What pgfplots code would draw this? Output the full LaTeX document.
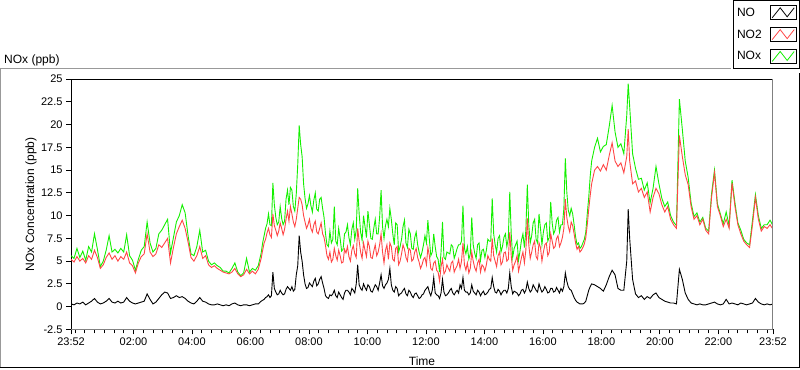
\documentclass[border=0pt]{standalone}
\usepackage{fontspec}
\setmainfont{Liberation Sans}
\usepackage{pgfplots}
\usepackage{pgfplotstable}
\pgfplotsset{compat=1.18}
\definecolor{noxgreen}{RGB}{20,240,0}
\definecolor{no2red}{RGB}{255,70,70}

\pgfplotstableread{
t NO NO2 NOx
0 0.3 5.2 5.6
6 0.2 4.9 5.3
12 0.4 5.5 6.4
18 0.3 5.0 5.4
24 0.5 5.3 6.1
30 0.2 4.8 5.1
36 0.4 5.6 6.6
42 0.6 5.2 6.0
48 0.9 6.2 8.0
54 0.5 5.4 6.3
60 0.3 4.2 4.4
66 0.4 4.6 5.0
72 0.6 5.4 6.2
78 0.9 5.9 7.8
84 0.5 5.2 6.0
90 0.4 5.6 6.3
96 0.6 5.0 5.9
102 0.4 5.5 6.4
108 0.5 5.2 6.0
114 1.0 6.0 7.9
120 0.6 4.8 5.6
126 0.4 4.5 5.1
132 0.3 3.7 4.0
138 0.4 4.8 5.2
144 0.5 5.5 6.2
150 0.6 5.8 6.6
156 1.4 8.0 9.3
162 0.8 6.0 7.0
168 0.3 5.5 6.0
174 0.5 5.8 6.4
180 0.9 6.8 8.0
186 1.3 6.5 8.4
192 1.6 7.0 9.0
198 1.5 7.5 9.6
204 0.9 4.8 5.9
210 1.0 6.5 7.6
216 1.2 8.0 9.3
222 1.0 8.8 10.0
228 1.1 9.5 11.2
234 0.9 8.6 10.3
240 0.6 7.1 7.8
246 0.4 5.4 5.8
252 0.3 5.0 5.6
258 0.6 5.6 6.6
264 1.0 6.6 8.4
270 0.6 5.3 6.0
276 0.5 5.6 6.2
282 0.3 4.6 5.0
288 0.2 4.3 4.6
294 0.2 4.5 4.8
300 0.3 4.2 4.5
306 0.2 4.0 4.3
312 0.1 3.8 3.9
318 0.2 3.7 3.9
324 0.1 3.6 3.7
330 0.3 3.8 4.2
336 0.4 4.2 4.8
342 0.2 3.6 3.8
348 0.1 3.3 3.4
354 0.2 3.5 3.7
360 0.2 4.1 5.3
366 0.1 3.6 3.8
372 0.2 3.9 4.2
378 0.3 3.6 4.0
384 0.3 4.1 4.5
390 0.6 5.3 5.9
393 0.7 6.2 7.0
396 0.8 7.0 7.8
399 1.0 7.4 8.6
402 1.1 8.1 9.1
405 1.3 8.6 10.2
408 1.0 7.9 9.0
411 1.2 7.6 8.9
414 3.8 10.2 13.6
417 2.0 8.9 11.2
420 1.6 8.4 9.8
423 1.3 7.8 9.0
426 1.4 8.3 9.3
429 1.8 9.2 11.0
432 1.5 8.6 9.7
435 1.3 7.9 9.0
438 1.4 8.5 9.4
441 1.9 9.6 11.8
444 2.2 10.5 12.8
447 2.0 9.4 11.2
450 1.8 11.0 13.1
453 2.2 10.2 12.8
456 1.7 9.3 11.0
459 1.9 8.8 10.5
462 3.5 9.6 12.4
465 4.5 10.8 15.6
468 7.8 12.0 19.9
471 6.0 11.8 17.8
474 5.0 11.2 16.5
477 3.5 10.0 13.5
480 2.5 9.3 11.9
483 2.0 8.6 10.8
486 2.1 9.0 11.3
489 2.6 9.6 12.2
492 2.4 8.6 11.1
495 2.2 8.2 10.4
498 2.8 9.0 11.7
501 3.1 9.4 12.5
504 2.3 8.2 10.7
507 2.5 8.0 10.5
510 3.0 8.6 11.8
513 3.3 9.2 12.0
516 2.6 8.0 10.8
519 2.0 7.6 9.8
522 1.2 6.7 8.0
525 1.0 5.6 6.8
528 0.9 5.2 6.6
531 1.3 6.0 8.3
534 1.2 4.9 7.0
537 1.4 5.2 7.4
540 1.8 6.4 11.0
543 1.2 5.6 7.2
546 1.0 5.1 6.8
549 1.6 6.2 8.6
552 1.3 5.6 7.5
555 1.0 4.8 6.1
558 0.8 4.9 6.3
561 1.5 6.3 8.0
564 1.8 5.9 8.2
567 1.8 6.6 9.0
570 1.6 5.5 7.6
573 1.3 5.0 6.8
576 2.0 6.2 8.5
579 1.8 6.7 9.2
582 1.5 5.8 7.4
585 2.5 5.4 8.4
588 4.6 8.6 13.0
591 2.4 7.2 10.2
594 2.0 6.0 8.2
597 1.8 5.3 7.3
600 2.5 7.0 10.0
603 2.1 6.2 8.8
606 1.8 5.5 7.6
609 2.4 7.2 10.5
612 2.2 6.6 9.0
615 1.7 5.4 7.5
618 1.6 5.3 7.4
621 2.0 6.1 8.6
624 2.4 6.8 9.6
627 2.2 5.6 8.0
630 1.8 6.0 8.0
633 2.6 6.8 9.8
636 3.5 8.0 12.8
639 2.3 6.0 8.8
642 2.0 4.8 7.5
645 2.4 6.2 8.9
648 2.6 6.8 9.6
651 3.0 5.2 8.8
654 4.2 7.0 10.8
657 2.4 6.6 9.6
660 1.8 5.2 8.0
663 1.6 5.0 6.8
666 2.2 6.4 9.2
669 2.0 6.6 9.0
672 1.2 4.6 6.0
675 1.4 5.0 6.6
678 1.5 5.8 7.4
681 1.8 6.8 8.8
684 2.0 6.3 9.5
687 1.4 5.4 7.0
690 1.2 5.0 6.5
693 1.8 6.4 8.5
696 1.6 6.2 8.0
699 1.2 5.0 6.4
702 1.0 5.2 6.3
705 1.4 6.0 7.6
708 1.5 6.4 8.2
711 1.2 5.4 6.8
714 0.9 4.9 6.0
717 1.0 4.2 5.4
720 1.3 4.6 6.0
723 1.4 5.2 6.8
726 1.8 5.4 7.8
729 2.0 4.6 7.0
732 2.2 6.5 9.5
735 1.6 5.6 7.4
738 1.2 4.2 5.6
741 1.8 4.0 6.0
744 3.2 4.8 8.0
747 1.5 5.0 6.6
750 1.3 4.0 5.5
753 1.2 3.8 5.2
756 0.9 2.8 3.8
759 1.5 4.4 6.0
762 3.0 5.2 9.3
765 1.6 3.6 5.4
768 1.2 3.9 5.2
771 1.3 4.6 6.0
774 1.5 4.2 5.9
777 1.8 3.9 5.8
780 2.0 4.8 6.8
783 1.5 5.0 6.6
786 1.3 3.8 5.3
789 1.6 4.2 5.8
792 1.8 4.5 6.4
795 1.5 5.2 6.8
798 2.4 4.2 6.8
801 2.0 5.0 7.2
804 3.2 7.0 11.1
807 1.8 4.6 6.4
810 1.6 4.0 5.8
813 1.6 4.8 6.6
816 1.3 3.7 5.2
819 1.5 4.2 5.8
822 2.4 6.0 9.8
825 1.7 5.0 6.8
828 1.5 4.3 5.9
831 1.3 3.9 5.3
834 1.8 4.8 6.8
837 1.6 5.2 7.0
840 1.2 3.8 5.1
843 1.5 4.6 6.2
846 1.7 4.4 6.3
849 1.3 3.9 5.4
852 1.4 4.6 6.2
855 1.6 5.6 7.4
858 1.9 5.2 7.2
861 2.0 5.0 7.2
864 3.2 7.5 11.9
867 2.2 5.6 8.0
870 1.6 5.0 6.8
873 1.5 4.4 6.0
876 1.9 5.6 7.5
879 1.7 6.0 7.8
882 1.3 4.6 6.0
885 1.6 4.9 6.6
888 1.8 5.9 7.6
891 1.8 6.0 8.0
894 1.5 5.0 6.6
897 2.0 5.2 7.5
900 3.7 8.2 12.6
903 2.2 5.6 8.0
906 1.4 4.0 5.4
909 1.7 4.6 6.4
912 1.6 5.0 6.8
915 1.5 5.6 7.2
918 1.2 3.9 5.1
921 1.4 4.6 6.1
924 1.8 5.4 7.3
927 1.9 6.0 8.0
930 1.5 4.8 6.5
933 1.8 6.2 8.4
936 2.7 9.7 13.4
939 2.0 6.8 9.0
942 1.6 5.3 7.0
945 1.8 6.0 7.8
948 2.4 6.8 9.2
951 2.1 7.2 9.6
954 1.8 5.5 7.4
957 1.6 5.2 7.0
960 2.5 7.0 10.2
963 2.0 6.5 8.6
966 1.6 5.0 6.8
969 1.8 6.0 8.2
972 2.2 6.8 9.0
975 1.9 7.0 9.2
978 1.5 5.6 7.2
981 1.6 6.0 7.6
984 2.0 8.0 11.5
987 2.0 7.2 9.2
990 1.6 6.4 8.0
993 1.7 6.6 8.4
996 2.1 7.5 9.5
999 1.8 7.8 9.8
1002 1.5 6.6 8.2
1005 2.0 7.0 9.0
1008 1.7 7.6 9.0
1011 2.2 8.6 10.8
1014 3.7 11.8 16.3
1017 2.8 9.8 12.6
1020 2.2 8.8 10.6
1023 1.9 8.2 10.0
1026 1.8 9.3 10.8
1029 1.4 8.9 10.2
1032 1.0 8.0 9.0
1035 0.7 7.0 7.7
1038 0.5 6.3 6.8
1041 0.4 6.6 7.0
1044 0.3 6.0 6.4
1047 0.3 6.2 6.6
1050 0.3 6.5 7.0
1053 0.4 6.9 7.4
1056 0.6 7.6 8.2
1059 1.2 9.0 10.2
1062 1.8 10.7 12.0
1065 2.2 12.2 14.3
1068 2.5 13.5 16.0
1074 2.4 15.0 17.5
1080 2.2 15.4 18.5
1086 2.0 14.9 17.0
1092 1.7 15.6 17.6
1098 2.4 15.0 17.8
1104 3.3 16.6 19.8
1110 4.0 18.0 22.1
1116 3.5 16.0 19.2
1122 2.0 15.4 17.5
1128 1.8 15.8 17.9
1134 1.8 14.7 16.8
1140 5.0 16.5 21.0
1143 10.7 19.5 24.5
1146 7.5 16.0 22.0
1152 3.0 13.5 16.8
1158 1.4 13.8 15.2
1164 1.0 12.6 14.0
1170 1.2 13.0 14.1
1176 0.8 12.0 12.8
1182 1.1 12.6 13.6
1188 0.9 10.4 11.4
1194 1.3 12.0 13.0
1200 1.5 13.0 15.4
1206 1.0 12.4 13.5
1212 0.8 11.2 11.9
1218 0.6 10.4 11.0
1224 0.5 11.0 11.5
1230 0.4 9.6 10.0
1236 0.4 9.0 9.3
1242 0.3 8.6 8.9
1248 4.1 18.8 22.8
1254 3.0 16.5 19.5
1260 1.5 14.5 16.0
1266 0.8 13.4 14.2
1272 0.4 11.0 11.4
1278 0.3 9.6 9.9
1284 0.2 10.0 10.3
1290 0.3 9.0 9.3
1296 0.2 9.6 9.8
1302 0.2 8.4 8.6
1308 0.3 8.0 8.3
1314 0.4 12.0 12.4
1320 0.5 14.7 15.0
1326 0.3 11.0 11.3
1332 0.2 10.0 10.2
1338 0.3 8.8 9.1
1344 0.8 9.6 10.4
1350 0.3 8.6 8.9
1356 0.4 13.6 13.9
1362 0.3 11.0 11.4
1368 0.2 9.0 9.2
1374 0.4 8.0 8.4
1380 0.3 7.2 7.4
1386 0.2 6.8 7.0
1392 0.3 6.5 6.8
1398 0.4 9.0 9.5
1404 0.9 12.0 12.3
1410 0.5 9.6 10.0
1416 0.3 8.3 8.6
1422 0.2 8.8 9.0
1428 0.3 8.6 9.0
1434 0.2 9.0 9.5
1440 0.3 8.5 8.9
}\data

\begin{document}
\begin{tikzpicture}[font=\fontsize{12}{14}\selectfont]
\begin{axis}[name=ax, scale only axis, width=701pt, height=250pt,
  xmin=0, xmax=1440, ymin=-2.5, ymax=25,
  xtick={0,128,248,368,488,608,728,848,968,1088,1208,1328,1440},
  xticklabels={23:52,02:00,04:00,06:00,08:00,10:00,12:00,14:00,16:00,18:00,20:00,22:00,23:52},
  minor xtick={8,28,...,1428},
  ytick={-2.5,0,2.5,5,7.5,10,12.5,15,17.5,20,22.5,25},
  yticklabels={-2.5,0,2.5,5,7.5,10,12.5,15,17.5,20,22.5,25},
  tick align=outside, xtick pos=bottom, ytick pos=left,
  major tick length=5pt, minor tick length=4pt,
  tick style={black, line width=0.8pt},
  axis line style={black, line width=1pt},
  ticklabel style={font=\fontsize{11}{13}\selectfont},
  xlabel={Time}, ylabel={NOx Concentration (ppb)},
  every axis x label/.style={at={(axis description cs:0.5,-0.128)}, anchor=center},
  every axis y label/.style={at={(axis description cs:-0.0571,0.5)}, rotate=90, anchor=center},
  legend plot pos=right, reverse legend, legend cell align=left,
  legend style={at={(axis description cs:1.0385,1.316)}, anchor=north east,
    draw=black, line width=0.8pt, inner xsep=3pt, inner ysep=5pt,
    row sep=7pt, column sep=7pt, nodes={inner sep=1pt},
    font=\fontsize{12}{14}\selectfont},
  legend image code/.code={
    \draw[black, line width=0.8pt, fill=white] (0pt,-7pt) rectangle (26pt,7pt);
    \draw[#1, line width=0.8pt] (2pt,-5pt) -- (10pt,5pt) -- (17pt,-4pt) -- (24pt,5pt);
  },
]
\addplot[noxgreen, line width=0.9pt] table[x=t,y=NOx]{\data};
\addlegendentry{NOx}
\addplot[no2red, line width=0.9pt] table[x=t,y=NO2]{\data};
\addlegendentry{NO2}
\addplot[black, line width=0.9pt] table[x=t,y=NO]{\data};
\addlegendentry{NO}
\end{axis}
\draw[gray, line width=1pt] (ax.south west) -- (ax.south east) -- (ax.north east);
\node[anchor=west, inner sep=0pt] at ([shift={(-67pt,269pt)}]ax.south west) {NOx (ppb)};
\draw[gray!80, line width=1pt] ([shift={(-70.5pt,-38.5pt)}]ax.south west) -- ++(0,299pt) -- ++(729.5pt,0);
\draw[black, line width=1pt] ([shift={(-70.5pt,-38.5pt)}]ax.south west) -- ++(798pt,0) -- ++(0,295pt);
\end{tikzpicture}
\end{document}
